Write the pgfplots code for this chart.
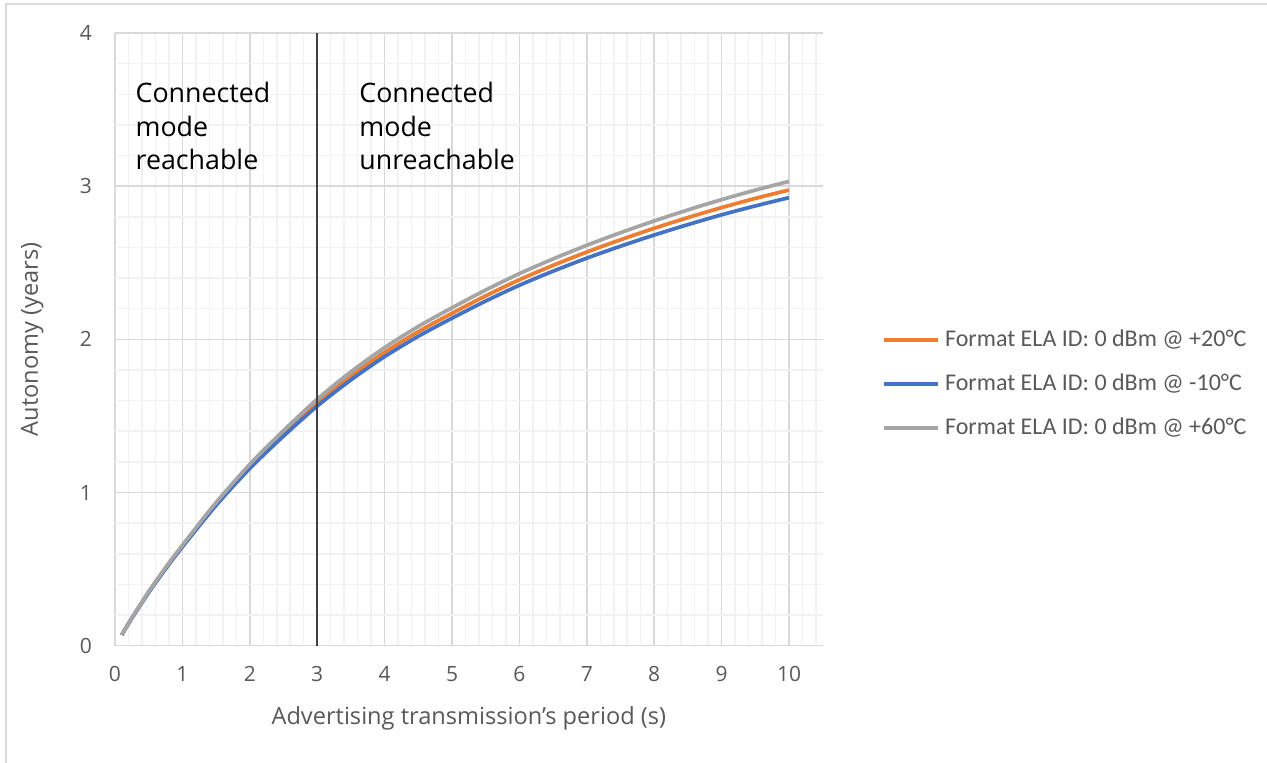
\documentclass[border=0pt]{standalone}
\usepackage{fontspec}
\setmainfont{Open Sans}
\newfontfamily\legendfont{Carlito}
\usepackage{pgfplots}
\pgfplotsset{compat=1.18}

\definecolor{xlorange}{HTML}{ED7D31}
\definecolor{xlblue}{HTML}{4472C4}
\definecolor{xlgray}{HTML}{A5A5A5}
\definecolor{majgrid}{HTML}{D9D9D9}
\definecolor{mingrid}{HTML}{F2F2F2}
\definecolor{txtgray}{HTML}{595959}
\definecolor{divider}{HTML}{404040}

\begin{document}
\begin{tikzpicture}
\path[use as bounding box] (0,0) rectangle (633.5pt,381.5pt);
\draw[majgrid, line width=0.75pt] (3pt,0pt) -- (3pt,379.5pt) -- (633.5pt,379.5pt);

\begin{axis}[
    at={(57.5pt,58.65pt)}, anchor=south west,
    scale only axis,
    width=353.85pt, height=306.35pt,
    xmin=0, xmax=10.5, ymin=0, ymax=4,
    xtick={0,1,...,10}, ytick={0,1,2,3,4},
    minor xtick={0.2,0.4,...,10.45},
    minor ytick={0.2,0.4,...,3.9},
    grid=both,
    major grid style={majgrid, line width=0.75pt},
    minor grid style={mingrid, line width=0.75pt},
    axis line style={draw=none},
    major tick length=0pt, minor tick length=0pt,
    /pgf/number format/assume math mode=true,
    tick label style={font=\fontsize{10.5}{12}\selectfont, text=txtgray},
    xticklabel style={yshift=-7pt},
    yticklabel style={xshift=-8pt},
    xlabel={Advertising transmission's period (s)},
    ylabel={Autonomy (years)},
    label style={font=\fontsize{11.8}{14}\selectfont, text=txtgray},
    xlabel style={at={(axis description cs:0.5,-0.118)}, anchor=center},
    ylabel style={at={(axis description cs:-0.117,0.5)}, anchor=center},
    legend style={
        at={(axis description cs:1.0838,0.427)}, anchor=west,
        draw=none, fill=none,
        font=\legendfont\fontsize{12}{14}\selectfont, text=txtgray,
        inner sep=0pt, row sep=11pt, column sep=2.5pt,
        nodes={inner sep=0pt, text height=8.5pt, text depth=2.5pt, anchor=west},
    },
    legend cell align=left,
    legend image code/.code={\draw[#1] (0pt,0pt) -- (27pt,0pt);},
]

\addplot[xlorange, line width=1.85pt, smooth] coordinates {
    (0.1,0.07) (0.25,0.18) (0.5,0.35) (0.75,0.505) (1,0.65)
    (1.5,0.925) (2,1.17) (2.5,1.385) (3,1.585) (3.5,1.76)
    (4,1.915) (4.5,2.05) (5,2.17) (5.5,2.284) (6,2.389)
    (6.5,2.483) (7,2.57) (7.5,2.65) (8,2.725) (8.5,2.795)
    (9,2.86) (9.5,2.92) (10,2.975)
};
\addlegendentry{Format ELA ID: 0 dBm @ +20°C}

\addplot[xlblue, line width=1.85pt, smooth] coordinates {
    (0.1,0.07) (0.25,0.179) (0.5,0.347) (0.75,0.501) (1,0.645)
    (1.5,0.916) (2,1.157) (2.5,1.368) (3,1.564) (3.5,1.735)
    (4,1.887) (4.5,2.02) (5,2.138) (5.5,2.25) (6,2.353)
    (6.5,2.445) (7,2.53) (7.5,2.608) (8,2.681) (8.5,2.749)
    (9,2.813) (9.5,2.871) (10,2.925)
};
\addlegendentry{Format ELA ID: 0 dBm @ -10°C}

\addplot[xlgray, line width=1.85pt, smooth] coordinates {
    (0.1,0.07) (0.25,0.181) (0.5,0.353) (0.75,0.51) (1,0.656)
    (1.5,0.935) (2,1.184) (2.5,1.404) (3,1.609) (3.5,1.788)
    (4,1.946) (4.5,2.084) (5,2.206) (5.5,2.322) (6,2.429)
    (6.5,2.525) (7,2.614) (7.5,2.696) (8,2.773) (8.5,2.845)
    (9,2.912) (9.5,2.974) (10,3.031)
};
\addlegendentry{Format ELA ID: 0 dBm @ +60°C}

% boundary between the two regimes
\addplot[divider, line width=0.9pt, forget plot] coordinates {(3,0) (3,4)};

\node[anchor=base west, inner sep=0pt, font=\fontsize{13.4}{16}\selectfont] at (axis cs:0.30,3.544) {Connected};
\node[anchor=base west, inner sep=0pt, font=\fontsize{13.4}{16}\selectfont] at (axis cs:0.30,3.322) {mode};
\node[anchor=base west, inner sep=0pt, font=\fontsize{13.4}{16}\selectfont] at (axis cs:0.30,3.112) {reachable};
\node[anchor=base west, inner sep=0pt, font=\fontsize{13.4}{16}\selectfont] at (axis cs:3.62,3.544) {Connected};
\node[anchor=base west, inner sep=0pt, font=\fontsize{13.4}{16}\selectfont] at (axis cs:3.62,3.322) {mode};
\node[anchor=base west, inner sep=0pt, font=\fontsize{13.4}{16}\selectfont] at (axis cs:3.62,3.112) {unreachable};
\end{axis}
\end{tikzpicture}
\end{document}
